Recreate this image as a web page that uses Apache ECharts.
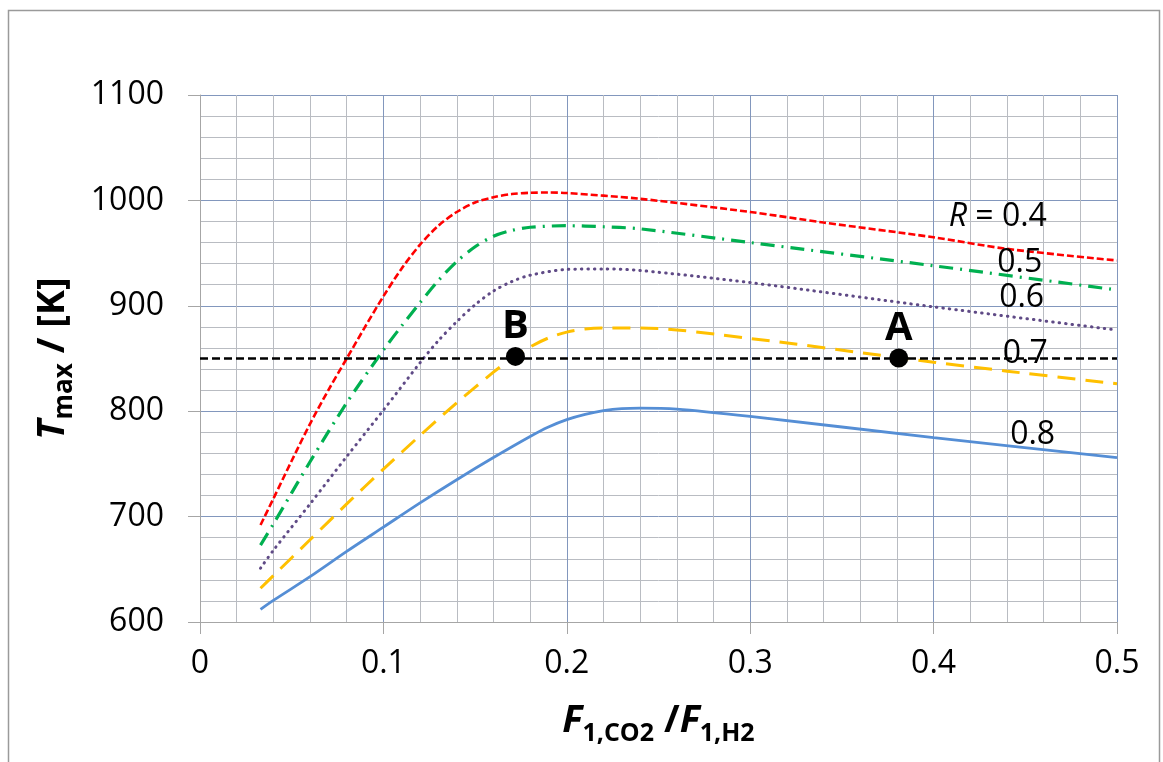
<!DOCTYPE html>
<html><head><meta charset="utf-8">
<script src="https://cdn.jsdelivr.net/npm/echarts@6/dist/echarts.min.js"></script>
<style>html,body{margin:0;padding:0;background:#fff}#c{width:1163px;height:762px}</style>
</head><body><div id="c"></div>
<script>
// ---- data (x = F1,CO2/F1,H2, y = Tmax in K) ----
const xR04 = [0.033,0.04,0.05,0.06,0.07,0.08,0.09,0.1,0.11,0.12,0.13,0.14,0.15,0.16,0.17,0.18,0.19,0.2,0.24,0.3,0.34,0.4,0.44,0.5];
const yR04 = [692,717,753,788,820,850,880,909,935.5,958,976,989,998,1003,1006,1007.2,1007.5,1007,1001.5,989,979,965,954,943];

const xR05 = [0.033,0.04,0.06,0.08,0.1,0.11,0.12,0.13,0.14,0.15,0.16,0.17,0.18,0.2,0.22,0.24,0.3,0.4,0.5];
const yR05 = [673,693,752,808,858,881,903,924,942,956,966,971.5,974.5,976,975,973,960,938,915];

const xR06 = [0.033,0.04,0.06,0.08,0.1,0.12,0.13,0.14,0.15,0.16,0.17,0.18,0.2,0.22,0.24,0.3,0.4,0.5];
const yR06 = [651,668,712,757,801,846,867,885,901,914,923,929,934.5,935,933.5,922,899,877];

const xR07 = [0.033,0.04,0.06,0.08,0.1,0.12,0.14,0.16,0.17,0.18,0.19,0.2,0.21,0.22,0.24,0.3,0.38,0.4,0.44,0.5];
const yR07 = [632,644,678,712,745,777,808,837,850,861,869.5,875,878,879,879,869,851,846.5,838,826];

const xR08 = [0.033,0.04,0.06,0.08,0.1,0.12,0.14,0.16,0.18,0.19,0.2,0.21,0.22,0.23,0.24,0.26,0.3,0.4,0.5];
const yR08 = [612,620.5,643,667,690,713,735,756,776,785,792,797,800.5,802.5,803,802,795,775,756];

const refX = [0, 0.5];
const refT = 850;

const pointNames = ['B', 'A'];
const pointX = [0.172, 0.381];
const pointY = [852, 850.5];

const curveNames = ['R = 0.4', '0.5', '0.6', '0.7', '0.8'];
const curveLabelX = [0.435, 0.447, 0.448, 0.450, 0.454];
const curveLabelY = [984, 940.5, 907.5, 854.5, 777.5];

const xTickLabels = ['0', '0.1', '0.2', '0.3', '0.4', '0.5'];
const yTickLabels = ['600', '700', '800', '900', '1000', '1100'];

// ---- chart ----
const FONT = 'Open Sans';
const zip = (xs, ys) => xs.map((x, i) => [x, ys[i]]);

function curve(name, xs, ys, color, width, dash, cap) {
  return {
    name, type: 'line', data: zip(xs, ys), symbol: 'none',
    smooth: 0.3,
    lineStyle: { color, width, type: dash, cap: cap || 'butt' },
    z: 3, silent: true
  };
}

const chart = echarts.init(document.getElementById('c'), null, { renderer: 'canvas' });
chart.setOption({
  animation: false,
  backgroundColor: '#fff',
  textStyle: { fontFamily: FONT },
  graphic: [{
    type: 'rect', silent: true, z: -10,
    shape: { x: 8.5, y: 10.5, width: 1151, height: 800 },
    style: { fill: 'none', stroke: '#9a9a9a', lineWidth: 1.5 }
  }],
  grid: { left: 200, top: 95, right: 46, bottom: 140, containLabel: false },
  xAxis: {
    type: 'value', min: 0, max: 0.5, interval: 0.1,
    name: '{f|F}{s|1,CO2}{n| /}{f|F}{s|1,H2}',
    nameLocation: 'middle', nameGap: 80,
    nameTextStyle: {
      rich: {
        f: { fontFamily: FONT, fontSize: 38, fontWeight: 'bold', fontStyle: 'italic', color: '#000', lineHeight: 44, verticalAlign: 'top' },
        n: { fontFamily: FONT, fontSize: 38, fontWeight: 'bold', color: '#000', lineHeight: 44, verticalAlign: 'top' },
        s: { fontFamily: FONT, fontSize: 25, fontWeight: 'bold', color: '#000', lineHeight: 30, verticalAlign: 'bottom' }
      }
    },
    axisLine: { show: true, lineStyle: { color: '#a6a6a6', width: 1 } },
    axisTick: { show: true, length: 12, lineStyle: { color: '#a6a6a6' } },
    minorTick: { show: false, splitNumber: 5 },
    axisLabel: {
      margin: 26, fontFamily: FONT, fontSize: 32, color: '#000',
      formatter: v => xTickLabels[Math.round(v * 10)]
    },
    splitLine: { show: true, lineStyle: { color: '#8297bd', width: 1 } },
    minorSplitLine: { show: true, lineStyle: { color: '#b9bcc2', width: 1 } }
  },
  yAxis: {
    type: 'value', min: 600, max: 1100, interval: 100,
    name: '{t|T}{s|max}{n| / [K]}',
    nameLocation: 'middle', nameGap: 122, nameRotate: 90,
    nameTextStyle: {
      rich: {
        t: { fontFamily: FONT, fontSize: 38, fontWeight: 'bold', fontStyle: 'italic', color: '#000', lineHeight: 44, verticalAlign: 'top' },
        n: { fontFamily: FONT, fontSize: 38, fontWeight: 'bold', color: '#000', lineHeight: 44, verticalAlign: 'top' },
        s: { fontFamily: FONT, fontSize: 26, fontWeight: 'bold', color: '#000', lineHeight: 30, verticalAlign: 'bottom' }
      }
    },
    axisLine: { show: true, lineStyle: { color: '#a6a6a6', width: 1 } },
    axisTick: { show: true, length: 12, lineStyle: { color: '#a6a6a6' } },
    minorTick: { show: false, splitNumber: 5 },
    axisLabel: {
      margin: 36, fontFamily: FONT, fontSize: 32, color: '#000',
      formatter: v => yTickLabels[Math.round((v - 600) / 100)]
    },
    splitLine: { show: true, lineStyle: { color: '#8297bd', width: 1 } },
    minorSplitLine: { show: true, lineStyle: { color: '#b9bcc2', width: 1 } }
  },
  series: [
    curve('R=0.8', xR08, yR08, '#558ed5', 2.8, 'solid'),
    curve('R=0.7', xR07, yR07, '#ffc000', 3, [18, 10]),
    curve('R=0.6', xR06, yR06, '#5f4a86', 3, [0.5, 6], 'round'),
    curve('R=0.5', xR05, yR05, '#00b050', 3.2, [14, 7, 2, 7]),
    curve('R=0.4', xR04, yR04, '#ff0000', 2.6, [7, 3]),
    {
      name: 'ref', type: 'line', symbol: 'none', silent: true, z: 4,
      data: refX.map(x => [x, refT]),
      lineStyle: { color: '#000', width: 2.6, type: [8, 4] }
    },
    {
      name: 'points', type: 'scatter', z: 6, silent: true,
      symbol: 'circle', symbolSize: 19,
      itemStyle: { color: '#000', opacity: 1 },
      data: pointX.map((x, i) => ({ value: [x, pointY[i]], name: pointNames[i] })),
      label: {
        show: true, position: 'top', distance: 0, opacity: 1,
        formatter: p => p.name,
        fontFamily: FONT, fontSize: 40, fontWeight: 'bold', color: '#000'
      }
    },
    {
      name: 'curveLabels', type: 'scatter', z: 7, silent: true,
      symbolSize: 0,
      itemStyle: { opacity: 1 },
      data: curveLabelX.map((x, i) => ({ value: [x, curveLabelY[i]], name: curveNames[i] })),
      label: {
        show: true, position: 'inside', opacity: 1,
        formatter: p => p.name.startsWith('R') ? '{i|R}{n|' + p.name.slice(1) + '}' : '{n|' + p.name + '}',
        rich: {
          i: { fontFamily: FONT, fontSize: 32, fontStyle: 'italic', color: '#000' },
          n: { fontFamily: FONT, fontSize: 32, color: '#000' }
        }
      }
    }
  ]
});
</script>
</body></html>
